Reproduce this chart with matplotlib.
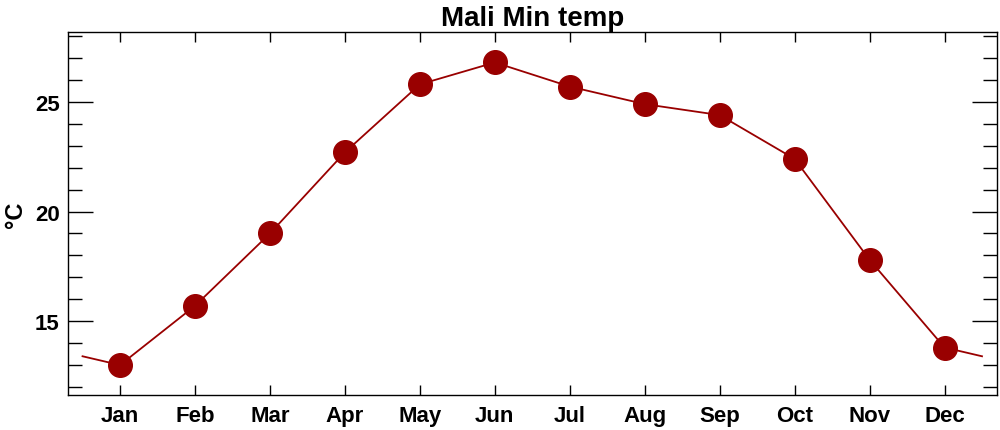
import matplotlib
matplotlib.use("Agg")
import matplotlib.pyplot as plt
import numpy as np
from matplotlib.ticker import MultipleLocator

months = ["Jan", "Feb", "Mar", "Apr", "May", "Jun",
          "Jul", "Aug", "Sep", "Oct", "Nov", "Dec"]
min_temp = [13.0, 15.7, 19.0, 22.7, 25.8, 26.8,
            25.7, 24.9, 24.4, 22.4, 17.8, 13.8]
title = "Mali Min temp"
ylabel = "°C"

plt.rcParams['font.family'] = ['Liberation Sans', 'DejaVu Sans']
plt.rcParams['font.weight'] = 'bold'

x = np.arange(1, 13)
temp = np.array(min_temp)
# the line wraps around the year: half a month past each end
edge = (temp[0] + temp[-1]) / 2
x_line = np.concatenate([[0.5], x, [12.5]])
y_line = np.concatenate([[edge], temp, [edge]])

fig = plt.figure(figsize=(10, 4.31), dpi=100)
ax = fig.add_axes([0.068, 0.081, 0.929, 0.842])

red = "#990000"
ax.plot(x_line, y_line, color=red, lw=1.3, zorder=2)
ax.plot(x, temp, "o", color=red, ms=17, mec=red, zorder=3)

ax.set_xlim(0.306, 12.70)
ax.set_ylim(11.63, 28.18)
ax.set_xticks(x)
ax.set_xticklabels(months)
ax.yaxis.set_major_locator(MultipleLocator(5))
ax.yaxis.set_minor_locator(MultipleLocator(1))
ax.xaxis.set_minor_locator(matplotlib.ticker.NullLocator())

ax.tick_params(axis="x", which="major", direction="in", top=True, bottom=True,
               length=7, width=1, labelsize=16, pad=7)
ax.tick_params(axis="y", which="major", direction="in", left=True, right=True,
               length=18, width=1, labelsize=16, pad=6)
ax.tick_params(axis="y", which="minor", direction="in", left=True, right=True,
               length=10, width=1)
for lab in ax.get_xticklabels() + ax.get_yticklabels():
    lab.set_fontweight("bold")
for sp in ax.spines.values():
    sp.set_linewidth(1)

ax.set_title(title, fontsize=20, fontweight="bold", pad=5)
ax.set_ylabel(ylabel, fontsize=17, fontweight="bold", labelpad=6)

fig.savefig("out.png", dpi=100)
